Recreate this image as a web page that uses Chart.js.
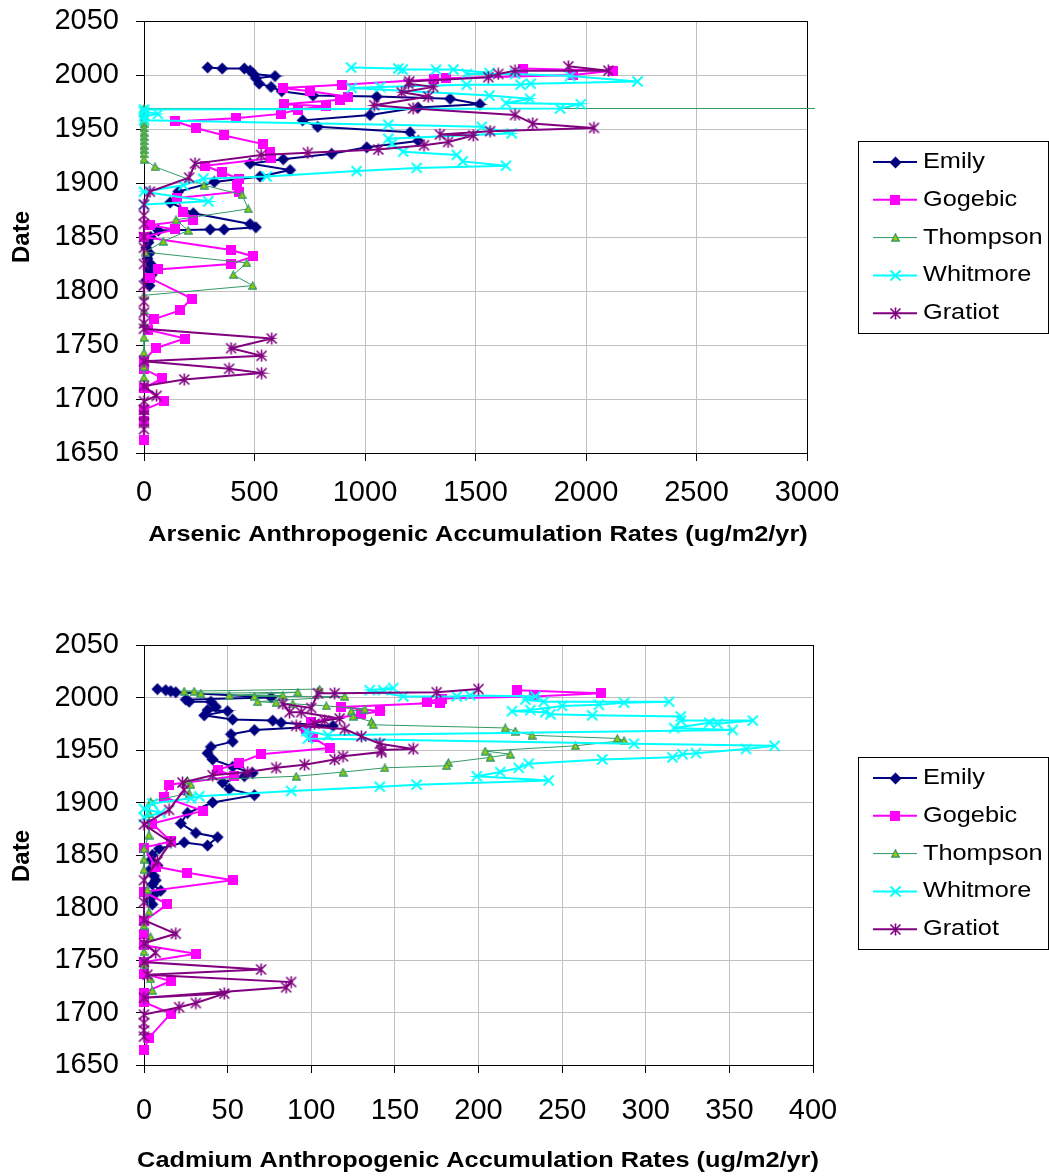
<!DOCTYPE html>
<html><head><meta charset="utf-8">
<script src="https://cdn.jsdelivr.net/npm/chart.js@4/dist/chart.umd.min.js"></script>
<style>
html,body{margin:0;padding:0;background:#fff;}
#wrap{position:relative;width:1049px;height:1176px;overflow:hidden;}
canvas{position:absolute;left:0;}
#c1{top:0;} #c2{top:588px;}
</style></head><body>
<div id="wrap"><canvas id="c1" width="1049" height="588"></canvas><canvas id="c2" width="1049" height="588"></canvas></div>
<script>
// ---------------- DATA ----------------
const seriesNames = ['Emily', 'Gogebic', 'Thompson', 'Whitmore', 'Gratiot'];
const yearTickLabels = [1650, 1700, 1750, 1800, 1850, 1900, 1950, 2000, 2050];
const arsenicTickLabels = [0, 500, 1000, 1500, 2000, 2500, 3000];
const cadmiumTickLabels = [0, 50, 100, 150, 200, 250, 300, 350, 400];
const arsenicTitle = 'Arsenic Anthropogenic Accumulation Rates (ug/m2/yr)';
const cadmiumTitle = 'Cadmium Anthropogenic Accumulation Rates (ug/m2/yr)';
const yTitle = 'Date';

// Arsenic
const asEmilyRate = [288,354,454,480,495,593,506,521,575,623,765,1053,1385,1520,1240,1023,718,786,1204,1241,1008,849,630,480,661,525,318,155,118,223,480,506,362,299,65,30,20,10,25,15,30,20,35,10,25];
const asEmilyYear = [2007,2006,2006,2004,2001,1999,1997,1992,1989,1985,1981,1980,1978,1973,1970,1963,1958,1952,1947,1939,1933,1927,1922,1918,1912,1906,1901,1892,1882,1872,1862,1859,1857,1857,1856,1850,1845,1840,1835,1830,1825,1820,1815,1810,1805];
const asGogebicRate = [1715,2122,1940,1365,1312,894,628,751,924,887,634,822,698,618,416,140,235,363,539,570,575,276,351,429,419,429,148,178,223,27,140,0,394,495,394,62,27,216,163,47,20,185,53,0,0,83,0,92,0,0,0];
const asGogebicYear = [2006,2004,2000,1997,1996,1991,1988,1985,1980,1977,1973,1971,1968,1964,1960,1957,1951,1944,1936,1929,1923,1916,1910,1904,1898,1892,1886,1873,1866,1861,1857,1850,1838,1832,1825,1820,1812,1793,1782,1774,1764,1756,1747,1736,1728,1719,1710,1698,1690,1680,1662];
const asThompsonRate = [6000,0,0,0,0,0,0,0,0,0,0,0,0,0,50,272,444,472,145,200,87,5,465,404,492,0,0,0,0,0,0,0];
const asThompsonYear = [1969,1969,1966,1962,1958,1955,1951,1947,1943,1939,1935,1931,1927,1922,1915,1898,1889,1876,1866,1856,1846,1836,1826,1815,1805,1796,1782,1770,1757,1743,1730,1720];
const asWhitmoreRate = [937,1151,1170,1321,1400,1563,1460,1679,1928,2233,1750,1704,1460,1068,940,1563,1747,1638,1976,1883,0,0,63,0,0,1105,1528,1664,1105,1121,1173,1415,1442,1638,1234,962,555,268,178,0,291,0];
const asWhitmoreYear = [2007,2006,2005,2005,2005,2002,2001,2001,1999,1994,1992,1991,1991,1989,1988,1981,1978,1974,1973,1969,1968,1966,1964,1962,1958,1954,1952,1946,1941,1936,1929,1926,1920,1916,1914,1911,1906,1904,1898,1892,1883,1880];
const asGratiotRate = [1920,2101,1679,1603,1558,1200,1196,1309,1166,1286,1042,1218,1679,1759,2036,1566,1339,1490,1376,1267,1060,741,530,231,204,27,0,0,0,0,0,0,0,0,0,0,0,578,394,532,0,385,532,182,0,57,0,0,0,0,0];
const asGratiotYear = [2008,2004,2004,2001,1998,1994,1992,1989,1984,1980,1972,1969,1963,1955,1951,1948,1945,1944,1938,1935,1931,1928,1926,1918,1905,1892,1880,1870,1862,1850,1840,1825,1805,1790,1780,1770,1765,1756,1747,1740,1735,1728,1724,1718,1712,1703,1698,1690,1685,1678,1672];

// Cadmium
const cdEmilyRate = [8,13,16,19,76,25,27,40,43,38,50,36,53,77,82,113,66,52,53,40,38,41,53,65,60,47,51,66,41,26,22,31,44,38,24,9,5,4,8,3,6,7,5,10,6,3,5];
const cdEmilyYear = [2008,2007,2006,2005,2000,1998,1996,1996,1991,1988,1987,1983,1979,1978,1976,1973,1969,1965,1958,1953,1947,1941,1934,1928,1925,1919,1913,1907,1900,1890,1880,1871,1867,1859,1862,1856,1850,1845,1840,1835,1830,1826,1822,1816,1812,1807,1803];
const cdGogebicRate = [223,273,233,178,169,177,118,141,130,100,97,101,111,70,57,44,54,15,12,35,5,16,0,7,26,53,0,14,0,0,0,31,0,0,16,0,0,16,3,0];
const cdGogebicYear = [2007,2004,2001,1999,1996,1995,1991,1987,1984,1977,1970,1962,1952,1946,1938,1931,1925,1917,1905,1892,1880,1863,1857,1839,1833,1826,1815,1803,1787,1775,1764,1756,1748,1737,1730,1719,1710,1699,1676,1664];
const cdThompsonRate = [105,24,30,34,92,51,83,66,120,68,79,89,109,132,124,125,136,137,216,222,232,283,287,258,204,219,207,182,181,144,119,91,26,28,27,4,3,3,0,0,0,2,3,0,4,0,0,4,5];
const cdThompsonYear = [2008,2006,2006,2004,2005,2002,2002,2001,2001,1996,1995,1994,1992,1989,1987,1982,1977,1974,1971,1968,1964,1961,1959,1954,1949,1946,1943,1938,1935,1933,1929,1925,1921,1917,1909,1901,1890,1869,1856,1846,1836,1817,1796,1783,1772,1758,1746,1732,1721];
const cdWhitmoreRate = [143,149,135,155,187,195,234,228,239,314,287,272,250,231,220,240,243,268,321,321,364,343,338,317,352,110,97,98,293,377,360,330,322,316,274,230,224,213,199,242,163,141,88,33,28,5,0,10,0];
const cdWhitmoreYear = [2007,2009,2007,2001,2001,2002,2001,1998,1996,1996,1995,1993,1992,1988,1987,1986,1984,1983,1982,1978,1978,1975,1976,1971,1969,1964,1968,1961,1956,1954,1951,1947,1946,1943,1941,1937,1933,1929,1925,1921,1917,1915,1911,1906,1904,1899,1894,1890,1886];
const cdGratiotRate = [200,175,114,104,100,83,87,94,117,108,102,91,120,130,141,161,142,142,119,114,96,79,62,41,23,24,15,0,16,8,0,0,0,19,0,7,0,70,2,88,85,0,48,31,21,0,0,0,0];
const cdGratiotYear = [2008,2005,2004,2004,1990,1994,1986,1986,1980,1978,1975,1973,1970,1963,1956,1951,1950,1948,1944,1941,1936,1933,1929,1926,1919,1912,1893,1879,1862,1844,1826,1805,1788,1775,1766,1757,1748,1741,1736,1729,1724,1714,1718,1709,1705,1698,1690,1683,1677];

// ---------------- STYLE ----------------
const FONT = 'Arial, "Liberation Sans", sans-serif';
const STRETCH = 1.15;

function mk(size, draw) {
  const c = document.createElement('canvas');
  c.width = size; c.height = size;
  draw(c.getContext('2d'), size);
  return c;
}
const markers = [
  mk(13, g => { g.fillStyle = '#000080'; g.beginPath(); g.moveTo(6.5,0.5); g.lineTo(12.5,6.5); g.lineTo(6.5,12.5); g.lineTo(0.5,6.5); g.closePath(); g.fill(); }),
  mk(10, g => { g.fillStyle = '#FF00FF'; g.fillRect(0,0,10,10); }),
  mk(9, g => { g.fillStyle = '#99CC00'; g.strokeStyle = '#339966'; g.lineWidth = 1.3; g.beginPath(); g.moveTo(4.5,1); g.lineTo(8.2,8); g.lineTo(0.8,8); g.closePath(); g.fill(); g.stroke(); }),
  mk(13, g => { g.strokeStyle = '#00FFFF'; g.lineWidth = 1.8; g.beginPath(); g.moveTo(1.5,1.5); g.lineTo(11.5,11.5); g.moveTo(11.5,1.5); g.lineTo(1.5,11.5); g.stroke(); }),
  mk(13, g => { g.strokeStyle = '#800080'; g.lineWidth = 1.6; g.beginPath(); g.moveTo(1.5,1.5); g.lineTo(11.5,11.5); g.moveTo(11.5,1.5); g.lineTo(1.5,11.5); g.moveTo(6.5,0.5); g.lineTo(6.5,12.5); g.stroke(); })
];
const lineColors = ['#000080', '#FF00FF', '#339966', '#00FFFF', '#800080'];
const lineWidths = [2, 2, 1, 2, 2];

function makeDatasets(rates, years) {
  return rates.map((r, s) => ({
    label: seriesNames[s],
    data: r.map((v, i) => ({ x: v, y: years[s][i] })),
    showLine: true,
    borderColor: lineColors[s],
    borderWidth: lineWidths[s],
    backgroundColor: lineColors[s],
    pointStyle: markers[s],
    pointRadius: 5,
    pointHoverRadius: 5,
    tension: 0,
    order: 5 - s,
    clip: { left: 12, top: 12, right: 8, bottom: 12 }
  }));
}

function stretchedText(ctx, text, x, y, font, align, rot) {
  ctx.save();
  ctx.translate(x, y);
  if (rot) ctx.rotate(rot);
  ctx.scale(rot ? 1 : STRETCH, 1);
  ctx.font = font;
  ctx.fillStyle = '#000';
  ctx.textAlign = align;
  ctx.textBaseline = 'middle';
  ctx.fillText(text, 0, 0);
  ctx.restore();
}

const deco = {
  id: 'deco',
  beforeDatasetsDraw(chart) {
    const a = chart.chartArea, ctx = chart.ctx;
    ctx.save();
    ctx.strokeStyle = '#000'; ctx.lineWidth = 1;
    ctx.strokeRect(Math.round(a.left) + 0.5, Math.round(a.top) + 0.5, Math.round(a.right - a.left), Math.round(a.bottom - a.top));
    ctx.restore();
  },
  afterDraw(chart) {
    const o = chart.options.plugins.deco, ctx = chart.ctx;
    stretchedText(ctx, o.title, o.titleX, o.titleY, 'bold 22px ' + FONT, 'center', 0);
    stretchedText(ctx, yTitle, o.dateX, o.dateY, 'bold 24px ' + FONT, 'center', -Math.PI / 2);
    const L = o.legend;
    ctx.save();
    ctx.fillStyle = '#fff';
    ctx.fillRect(L.x, L.y, L.w, L.h);
    ctx.strokeStyle = '#000'; ctx.lineWidth = 1;
    ctx.strokeRect(L.x + 0.5, L.y + 0.5, L.w, L.h);
    chart.data.datasets.forEach((ds, i) => {
      const y = L.y + L.first + i * L.step;
      ctx.strokeStyle = ds.borderColor; ctx.lineWidth = ds.borderWidth;
      ctx.beginPath(); ctx.moveTo(L.x + 15, y); ctx.lineTo(L.x + 59, y); ctx.stroke();
      const m = ds.pointStyle;
      ctx.drawImage(m, Math.round(L.x + 37 - m.width / 2), Math.round(y - m.height / 2));
      stretchedText(ctx, ds.label, L.x + 65, y, '22px ' + FONT, 'left', 0);
    });
    ctx.restore();
  }
};

function axis(ticksArr, fit, pad) {
  return {
    type: 'linear',
    min: ticksArr[0],
    max: ticksArr[ticksArr.length - 1],
    ticks: {
      stepSize: ticksArr[1] - ticksArr[0],
      autoSkip: false,
      maxRotation: 0,
      padding: pad,
      color: '#000',
      font: { family: FONT, size: 29 },
      callback: v => String(v)
    },
    grid: { color: '#c0c0c0', lineWidth: 1, tickColor: '#000', tickLength: 8, drawTicks: true },
    border: { display: true, color: '#000', width: 1 },
    afterFit: fit
  };
}

function build(id, rates, years, xTicks, title, padding, legendY, deco2, xPad) {
  new Chart(document.getElementById(id), {
    type: 'scatter',
    data: { datasets: makeDatasets(rates, years) },
    options: {
      responsive: false,
      animation: false,
      devicePixelRatio: 1,
      layout: { padding: padding },
      events: [],
      plugins: {
        legend: { display: false },
        tooltip: { enabled: false },
        deco: Object.assign({ title: title, titleX: 478 }, deco2, {
          legend: { x: 858, y: legendY, w: 190, h: 192, first: 21, step: 37.8 }
        })
      },
      scales: {
        x: axis(xTicks, s => { s.height = 75; s.paddingLeft = 0; s.paddingRight = 0; }, xPad),
        y: axis(yearTickLabels, s => { s.width = 144; s.paddingTop = 0; s.paddingBottom = 0; }, 17)
      }
    },
    plugins: [deco]
  });
}

build('c1',
  [asEmilyRate, asGogebicRate, asThompsonRate, asWhitmoreRate, asGratiotRate],
  [asEmilyYear, asGogebicYear, asThompsonYear, asWhitmoreYear, asGratiotYear],
  arsenicTickLabels, arsenicTitle,
  { top: 21, left: 0, right: 242, bottom: 60 }, 141,
  { titleY: 535, dateX: 22, dateY: 237 }, 15);

build('c2',
  [cdEmilyRate, cdGogebicRate, cdThompsonRate, cdWhitmoreRate, cdGratiotRate],
  [cdEmilyYear, cdGogebicYear, cdThompsonYear, cdWhitmoreYear, cdGratiotYear],
  cadmiumTickLabels, cadmiumTitle,
  { top: 57, left: 0, right: 236, bottom: 36 }, 169,
  { titleY: 573, dateX: 22, dateY: 268 }, 21);
</script></body></html>
